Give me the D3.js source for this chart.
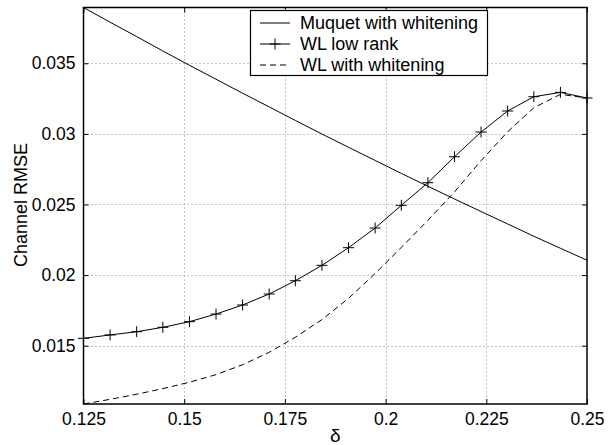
<!DOCTYPE html>
<html>
<head>
<meta charset="utf-8">
<script src="https://cdn.jsdelivr.net/npm/d3@7"></script>
<style>
  html, body { margin: 0; padding: 0; background: #fff; }
  svg { display: block; }
  text { font-family: "Liberation Sans", Arial, Helvetica, sans-serif; fill: #000; }
</style>
</head>
<body>
<svg id="chart" width="615" height="445"></svg>
<script>
// ---------- data ----------
const deltas = [0.125, 0.1316, 0.1382, 0.1447, 0.1513, 0.1579, 0.1645, 0.1711, 0.1776, 0.1842,
                0.1908, 0.1974, 0.2039, 0.2105, 0.2171, 0.2237, 0.2303, 0.2368, 0.2434, 0.25];
const muquetWhitening = [0.03895, 0.03791, 0.03689, 0.03587, 0.03486, 0.03387, 0.03288, 0.03191, 0.03095, 0.02999,
                         0.02905, 0.02812, 0.02720, 0.02629, 0.02539, 0.02450, 0.02362, 0.02275, 0.02190, 0.02105];
const wlLowRank = [0.01552, 0.01576, 0.01599, 0.01630, 0.01670, 0.01724, 0.01788, 0.01866, 0.01960, 0.02069,
                   0.02194, 0.02333, 0.02494, 0.02654, 0.02838, 0.03013, 0.03162, 0.03263, 0.03294, 0.03254];
const wlWhitening = [0.01087, 0.01120, 0.01156, 0.01196, 0.01241, 0.01295, 0.01365, 0.01453, 0.01560, 0.01685,
                     0.01835, 0.02011, 0.02196, 0.02388, 0.02589, 0.02810, 0.03015, 0.03185, 0.03280, 0.03254];
const seriesNames = ["Muquet with whitening", "WL low rank", "WL with whitening"];
const xTickValues = [0.125, 0.15, 0.175, 0.2, 0.225, 0.25];
const xTickLabels = ["0.125", "0.15", "0.175", "0.2", "0.225", "0.25"];
const yTickValues = [0.015, 0.02, 0.025, 0.03, 0.035];
const yTickLabels = ["0.015", "0.02", "0.025", "0.03", "0.035"];
const xLabel = "δ";
const yLabel = "Channel RMSE";

// ---------- layout ----------
const W = 615, H = 445;
const L = 83.5, R = 587, T = 7.5, B = 404;
const svg = d3.select("#chart");

const allY = muquetWhitening.concat(wlLowRank, wlWhitening);
const x = d3.scaleLinear().domain([deltas[0], deltas[deltas.length - 1]]).range([L, R]);
const y = d3.scaleLinear().domain([d3.min(allY), d3.max(allY)]).range([B, T]);

// grid
const grid = svg.append("g").attr("stroke", "#8c8c8c").attr("stroke-width", 1).attr("stroke-dasharray", "1,3");
grid.selectAll("line.vx").data(xTickValues.slice(1, -1)).join("line")
  .attr("x1", d => Math.round(x(d)) + 0.5).attr("x2", d => Math.round(x(d)) + 0.5)
  .attr("y1", T).attr("y2", B);
grid.selectAll("line.hy").data(yTickValues).join("line")
  .attr("y1", d => Math.round(y(d)) + 0.5).attr("y2", d => Math.round(y(d)) + 0.5)
  .attr("x1", L).attr("x2", R);

// axes (ticks inward on all four sides)
const tickLen = 5;
const axB = svg.append("g").attr("transform", `translate(0,${B})`)
  .call(d3.axisBottom(x).tickValues(xTickValues).tickFormat((d, i) => xTickLabels[i]).tickSizeInner(-tickLen).tickSizeOuter(0).tickPadding(9));
const axT = svg.append("g").attr("transform", `translate(0,${T})`)
  .call(d3.axisTop(x).tickValues(xTickValues).tickFormat("").tickSizeInner(-tickLen).tickSizeOuter(0));
const axL = svg.append("g").attr("transform", `translate(${L},0)`)
  .call(d3.axisLeft(y).tickValues(yTickValues).tickFormat((d, i) => yTickLabels[i]).tickSizeInner(-tickLen).tickSizeOuter(0).tickPadding(8));
const axR = svg.append("g").attr("transform", `translate(${R},0)`)
  .call(d3.axisRight(y).tickValues(yTickValues).tickFormat("").tickSizeInner(-tickLen).tickSizeOuter(0));
[axB, axT, axL, axR].forEach(a => {
  a.select(".domain").remove();
  a.selectAll(".tick line").attr("stroke", "#000").attr("stroke-width", 1);
  a.selectAll(".tick text").attr("font-size", "17.5px").attr("font-family", "Liberation Sans, Arial, sans-serif").attr("fill", "#000");
});

// lines
const pts = vals => deltas.map((d, i) => [d, vals[i]]);
const line = d3.line().x(d => x(d[0])).y(d => y(d[1]));
const plot = svg.append("g");
plot.append("path").datum(pts(muquetWhitening)).attr("d", line)
  .attr("fill", "none").attr("stroke", "#000").attr("stroke-width", 1);
plot.append("path").datum(pts(wlWhitening)).attr("d", line)
  .attr("fill", "none").attr("stroke", "#000").attr("stroke-width", 1).attr("stroke-dasharray", "6,4");
plot.append("path").datum(pts(wlLowRank)).attr("d", line)
  .attr("fill", "none").attr("stroke", "#000").attr("stroke-width", 1);
const ms = 5.5;
plot.selectAll("path.plus").data(pts(wlLowRank)).join("path")
  .attr("class", "plus")
  .attr("d", d => { const px = x(d[0]), py = y(d[1]);
    return `M${px - ms},${py}H${px + ms}M${px},${py - ms}V${py + ms}`; })
  .attr("fill", "none").attr("stroke", "#000").attr("stroke-width", 1);

// box
svg.append("rect").attr("x", L).attr("y", T).attr("width", R - L).attr("height", B - T)
  .attr("fill", "none").attr("stroke", "#000").attr("stroke-width", 1.5);

// axis labels
svg.append("text").attr("x", (L + R) / 2).attr("y", 442)
  .attr("text-anchor", "middle").attr("font-size", "19px")
  .attr("font-family", "Liberation Serif, Times New Roman, serif").text(xLabel);
svg.append("text").attr("transform", `translate(27,205) rotate(-90)`)
  .attr("text-anchor", "middle").attr("font-size", "18px").text(yLabel);

// legend
const lg = svg.append("g");
lg.append("rect").attr("x", 250.5).attr("y", 10.5).attr("width", 237).attr("height", 65)
  .attr("fill", "#fff").attr("stroke", "#000").attr("stroke-width", 1.2);
const rowsY = [23, 44, 65];
const sx1 = 260, sx2 = 290;
lg.append("line").attr("x1", sx1).attr("x2", sx2).attr("y1", rowsY[0]).attr("y2", rowsY[0]).attr("stroke", "#000");
lg.append("line").attr("x1", sx1).attr("x2", sx2).attr("y1", rowsY[1]).attr("y2", rowsY[1]).attr("stroke", "#000");
lg.append("path").attr("d", `M${(sx1 + sx2) / 2 - ms},${rowsY[1]}H${(sx1 + sx2) / 2 + ms}M${(sx1 + sx2) / 2},${rowsY[1] - ms}V${rowsY[1] + ms}`)
  .attr("stroke", "#000").attr("fill", "none");
lg.append("line").attr("x1", sx1).attr("x2", sx2).attr("y1", rowsY[2]).attr("y2", rowsY[2]).attr("stroke", "#000").attr("stroke-dasharray", "6,4");
lg.selectAll("text.lt").data(seriesNames).join("text").attr("class", "lt")
  .attr("x", 300).attr("y", (d, i) => rowsY[i]).attr("dy", "0.35em")
  .attr("font-size", "18px").text(d => d);
</script>
</body>
</html>
